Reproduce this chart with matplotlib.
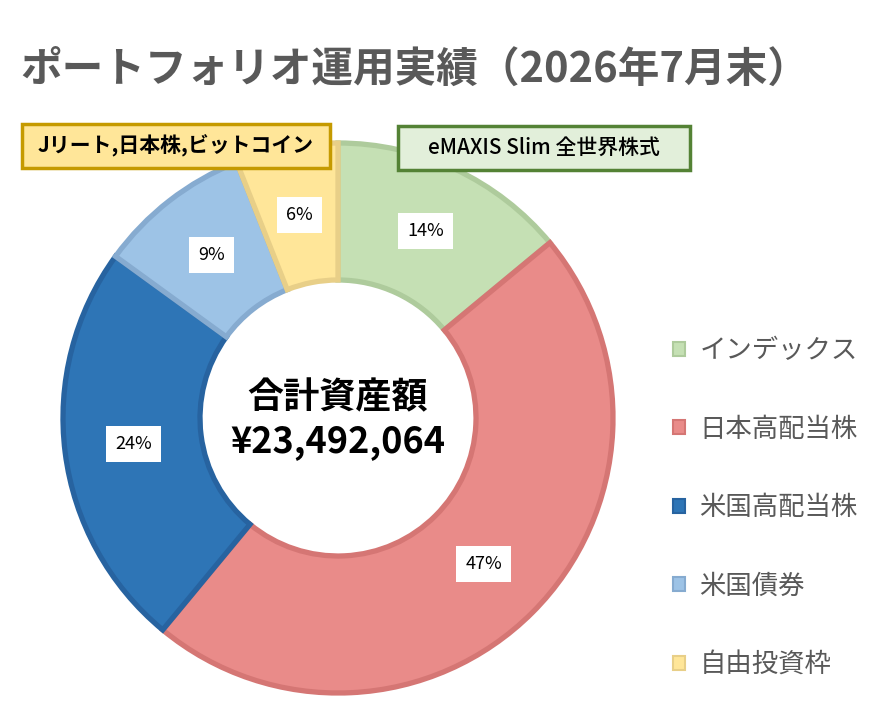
import matplotlib
matplotlib.use("Agg")
import matplotlib.pyplot as plt
from matplotlib.patches import Rectangle

plt.rcParams['font.family'] = ['Noto Sans CJK JP', 'DejaVu Sans']

# データ
categories = ['インデックス', '日本高配当株', '米国高配当株', '米国債券', '自由投資枠']
shares = [14, 47, 24, 9, 6]
face_colors = ['#C5E0B4', '#E98B89', '#2E75B6', '#9DC3E6', '#FFE699']
edge_colors = ['#AECB9C', '#D57674', '#2763A0', '#86ABD0', '#E8CF88']
total_label = '¥23,492,064'
title = 'ポートフォリオ運用実績（2026年7月末）'
note_left = 'Jリート,日本株,ビットコイン'
note_right = 'eMAXIS Slim 全世界株式'

W, H = 880, 720
fig = plt.figure(figsize=(W / 100, H / 100), dpi=100)
fig.patch.set_facecolor('white')

# ドーナツ（中心 338,418 / 半径 275px）
cx, cy, half = 338, 418, 300
ax = fig.add_axes([(cx - half) / W, (H - cy - half) / H, 2 * half / W, 2 * half / H])
wedges, _, pcts = ax.pie(
    shares, colors=face_colors, startangle=90, counterclock=False,
    radius=275, autopct='%d%%', pctdistance=0.75,
    wedgeprops=dict(width=137, linewidth=3.8),
    textprops=dict(fontsize=13, color='black'))
for w, ec in zip(wedges, edge_colors):
    w.set_edgecolor(ec)
for t in pcts:
    t.set_bbox(dict(facecolor='white', edgecolor='none', pad=6.5))
ax.set_xlim(-half, half)
ax.set_ylim(-half, half)
ax.axis('off')

ax.text(0, 20, '合計資産額', ha='center', va='center', fontsize=26, fontweight='bold')
ax.text(0, -24, total_label, ha='center', va='center', fontsize=26, fontweight='bold')

# タイトル
fig.text(20 / W, 1 - 70 / H, title, ha='left', va='center', fontsize=30,
         fontweight='bold', color='#595959')


# 注記ボックス（ピクセル指定）
def note_box(x0, y0, x1, y1, text, face, edge, weight):
    fig.patches.append(Rectangle((x0 / W, 1 - y1 / H), (x1 - x0) / W, (y1 - y0) / H,
                                 transform=fig.transFigure, facecolor=face,
                                 edgecolor=edge, linewidth=2.5, zorder=5))
    fig.text((x0 + x1) / 2 / W, 1 - (y0 + y1) / 2 / H, text, ha='center',
             va='center', fontsize=15, fontweight=weight, color='black', zorder=6)


note_box(22, 124, 330, 168, note_left, '#FFE699', '#C59A00', 'bold')
note_box(398, 126, 690, 170, note_right, '#E2EFDA', '#548235', 'medium')

# 凡例
leg = fig.legend(wedges, categories, loc='upper left',
                 bbox_to_anchor=(660 / W, 1 - 324 / H), frameon=False,
                 fontsize=19, handlelength=0.45, handleheight=0.45,
                 handletextpad=0.55, labelspacing=1.95, borderpad=0)
for t in leg.get_texts():
    t.set_color('#595959')
for h in leg.legend_handles:
    h.set_linewidth(1.5)

fig.savefig('out.png', dpi=100, facecolor='white')
